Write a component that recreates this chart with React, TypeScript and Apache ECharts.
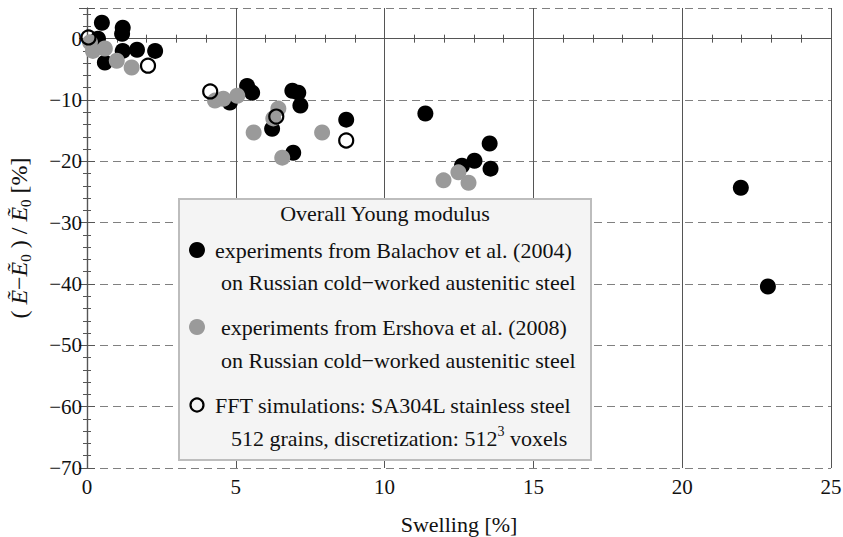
import React, { useEffect, useRef } from "react";
import * as echarts from "echarts";

const xTicks = [0, 5, 10, 15, 20, 25];
const yTicks = [-70, -60, -50, -40, -30, -20, -10, 0];

const balachov: number[][] = [
  [0.5, 2.6], [0.37, 0.0], [1.2, 1.8], [1.18, 0.8], [1.2, -2.0], [1.68, -1.8],
  [2.29, -2.0], [0.6, -3.9], [4.8, -10.4], [5.38, -7.7], [5.55, -8.8],
  [6.22, -14.7], [6.9, -8.5], [7.1, -8.8], [7.17, -10.9], [6.93, -18.6],
  [8.71, -13.2], [11.37, -12.2], [13.53, -17.1], [13.02, -19.9], [12.6, -20.7],
  [13.56, -21.2], [21.97, -24.3], [22.88, -40.4],
];

const ershova: number[][] = [
  [0.1, -0.6], [0.2, -2.0], [0.6, -1.6], [1.0, -3.6], [1.5, -4.7],
  [4.3, -10.1], [4.58, -9.8], [5.05, -9.3], [5.6, -15.3], [6.43, -11.4],
  [6.26, -13.0], [6.56, -19.4], [7.9, -15.3], [11.98, -23.1], [12.48, -21.8],
  [12.82, -23.5],
];

const fft: number[][] = [
  [0.05, 0.2], [2.05, -4.4], [4.14, -8.6], [6.36, -12.7], [8.71, -16.6],
];

const legendTitle = "Overall Young modulus";
const legendLines = [
  "experiments from Balachov et al. (2004)",
  "on Russian cold\u2212worked austenitic steel",
  "experiments from Ershova et al. (2008)",
  "on Russian cold\u2212worked austenitic steel",
  "FFT simulations: SA304L stainless steel",
];

const FONT = "Liberation Serif";

export default function App() {
  const ref = useRef<HTMLDivElement>(null);
  useEffect(() => {
    if (!ref.current) return;
    const chart = echarts.init(ref.current, undefined, { renderer: "svg" });
    const fmt = (v: number) => (v < 0 ? "\u2212" + Math.abs(v) : String(v));
    const frameColor = "#555";
    const LF = 22;
    const legText = (x: number, y: number, text: string) => ({
      type: "text",
      x,
      y,
      z: 101,
      style: {
        text,
        fontSize: LF,
        fontFamily: FONT,
        fill: "#111",
        verticalAlign: "middle",
        align: "left",
      },
    });
    const option: any = {
      animation: false,
      backgroundColor: "#fff",
      textStyle: { fontFamily: FONT },
      grid: { left: 87, right: 12, top: 8, bottom: 69, containLabel: false, outerBoundsMode: "none" },
      xAxis: [
        {
          type: "value",
          position: "bottom",
          min: xTicks[0],
          max: xTicks[xTicks.length - 1],
          interval: 5,
          axisLine: { show: true, lineStyle: { color: frameColor, width: 1.2 } },
          axisTick: { show: true, inside: true, length: 8, lineStyle: { color: frameColor } },
          minorTick: { show: true, splitNumber: 5, length: 4, lineStyle: { color: frameColor } },
          splitLine: { show: true, lineStyle: { color: "#555", width: 1, type: "solid" } },
          axisLabel: { fontSize: 21, fontFamily: FONT, color: "#111", margin: 8, formatter: fmt },
          name: "Swelling [%]",
          nameLocation: "middle",
          nameGap: 45,
          nameTextStyle: { fontSize: 22, fontFamily: FONT, color: "#111" },
        },
        {
          type: "value",
          position: "top",
          min: xTicks[0],
          max: xTicks[xTicks.length - 1],
          interval: 5,
          axisLine: { show: true, lineStyle: { color: frameColor, width: 1.2 } },
          axisTick: { show: true, inside: true, length: 8, lineStyle: { color: frameColor } },
          minorTick: { show: true, splitNumber: 5, length: 4, lineStyle: { color: frameColor } },
          splitLine: { show: false },
          axisLabel: { show: false },
        },
      ],
      yAxis: [
        {
          type: "value",
          position: "left",
          min: yTicks[0],
          max: 5,
          interval: 10,
          axisLine: { show: true, lineStyle: { color: frameColor, width: 1.2 } },
          axisTick: { show: true, inside: true, length: 8, lineStyle: { color: frameColor } },
          minorTick: { show: true, splitNumber: 5, length: 4, lineStyle: { color: frameColor } },
          splitLine: { show: true, lineStyle: { color: "#808080", width: 1, type: [8, 5] } },
          axisLabel: {
            fontSize: 21,
            fontFamily: FONT,
            color: "#111",
            margin: 5,
            showMaxLabel: false,
            formatter: fmt,
          },
          name: "{p|( }{i|\u1EBC}{p|\u2212}{i|\u1EBC}{s|0}{p| ) / }{i|\u1EBC}{s|0}{p| [%]}",
          nameLocation: "middle",
          nameRotate: 90,
          nameGap: 54,
          nameTextStyle: {
            fontSize: 24,
            fontFamily: FONT,
            color: "#111",
            rich: {
              p: { fontSize: 24, fontFamily: FONT, color: "#111" },
              i: { fontSize: 24, fontFamily: FONT, fontStyle: "italic", color: "#111" },
              s: { fontSize: 15, fontFamily: FONT, color: "#111", verticalAlign: "bottom", lineHeight: 28 },
            },
          },
        },
        {
          type: "value",
          position: "right",
          min: yTicks[0],
          max: 5,
          interval: 10,
          axisLine: { show: true, lineStyle: { color: frameColor, width: 1.2 } },
          axisTick: { show: true, inside: true, length: 8, lineStyle: { color: frameColor } },
          minorTick: { show: true, splitNumber: 5, length: 4, lineStyle: { color: frameColor } },
          splitLine: { show: false },
          axisLabel: { show: false },
        },
      ],
      series: [
        {
          type: "scatter",
          name: "Balachov",
          data: balachov,
          clip: false,
          symbol: "circle",
          symbolSize: 16,
          itemStyle: { color: "#000", opacity: 1 },
          z: 3,
        },
        {
          type: "scatter",
          name: "Ershova",
          data: ershova,
          clip: false,
          symbol: "circle",
          symbolSize: 16,
          itemStyle: { color: "#9a9a9a", opacity: 1 },
          z: 4,
        },
        {
          type: "scatter",
          name: "FFT",
          data: fft,
          clip: false,
          symbol: "circle",
          symbolSize: 14,
          itemStyle: { color: "rgba(0,0,0,0)", borderColor: "#000", borderWidth: 2.2, opacity: 1 },
          z: 5,
        },
      ],
      graphic: [
        {
          type: "rect",
          z: 100,
          shape: { x: 179, y: 199, width: 412, height: 261 },
          style: { fill: "#f4f4f4", stroke: "#bdbdbd", lineWidth: 2 },
        },
        {
          type: "text",
          x: 385,
          y: 213,
          z: 101,
          style: {
            text: legendTitle,
            fontSize: LF,
            fontFamily: FONT,
            fill: "#111",
            align: "center",
            verticalAlign: "middle",
          },
        },
        { type: "circle", z: 101, shape: { cx: 197, cy: 250, r: 8 }, style: { fill: "#000" } },
        legText(215, 250, legendLines[0]),
        legText(221, 282, legendLines[1]),
        { type: "circle", z: 101, shape: { cx: 197, cy: 327, r: 8 }, style: { fill: "#9a9a9a" } },
        legText(221, 327, legendLines[2]),
        legText(221, 360, legendLines[3]),
        {
          type: "circle",
          z: 101,
          shape: { cx: 197, cy: 405, r: 6.5 },
          style: { fill: "none", stroke: "#000", lineWidth: 2.2 },
        },
        legText(215, 405, legendLines[4]),
        {
          type: "text",
          x: 231,
          y: 438,
          z: 101,
          style: {
            text: "{t|512 grains, discretization: 512}{u|3}{t| voxels}",
            fontSize: LF,
            fontFamily: FONT,
            fill: "#111",
            align: "left",
            verticalAlign: "middle",
            rich: {
              t: { fontSize: LF, fontFamily: FONT, fill: "#111" },
              u: { fontSize: 14, fontFamily: FONT, fill: "#111", verticalAlign: "top", lineHeight: 28 },
            },
          },
        },
      ],
    };
    chart.setOption(option);
    return () => chart.dispose();
  }, []);
  return (
    <div
      ref={ref}
      style={{ position: "fixed", left: 0, top: 0, width: 843, height: 537, background: "#fff" }}
    />
  );
}
